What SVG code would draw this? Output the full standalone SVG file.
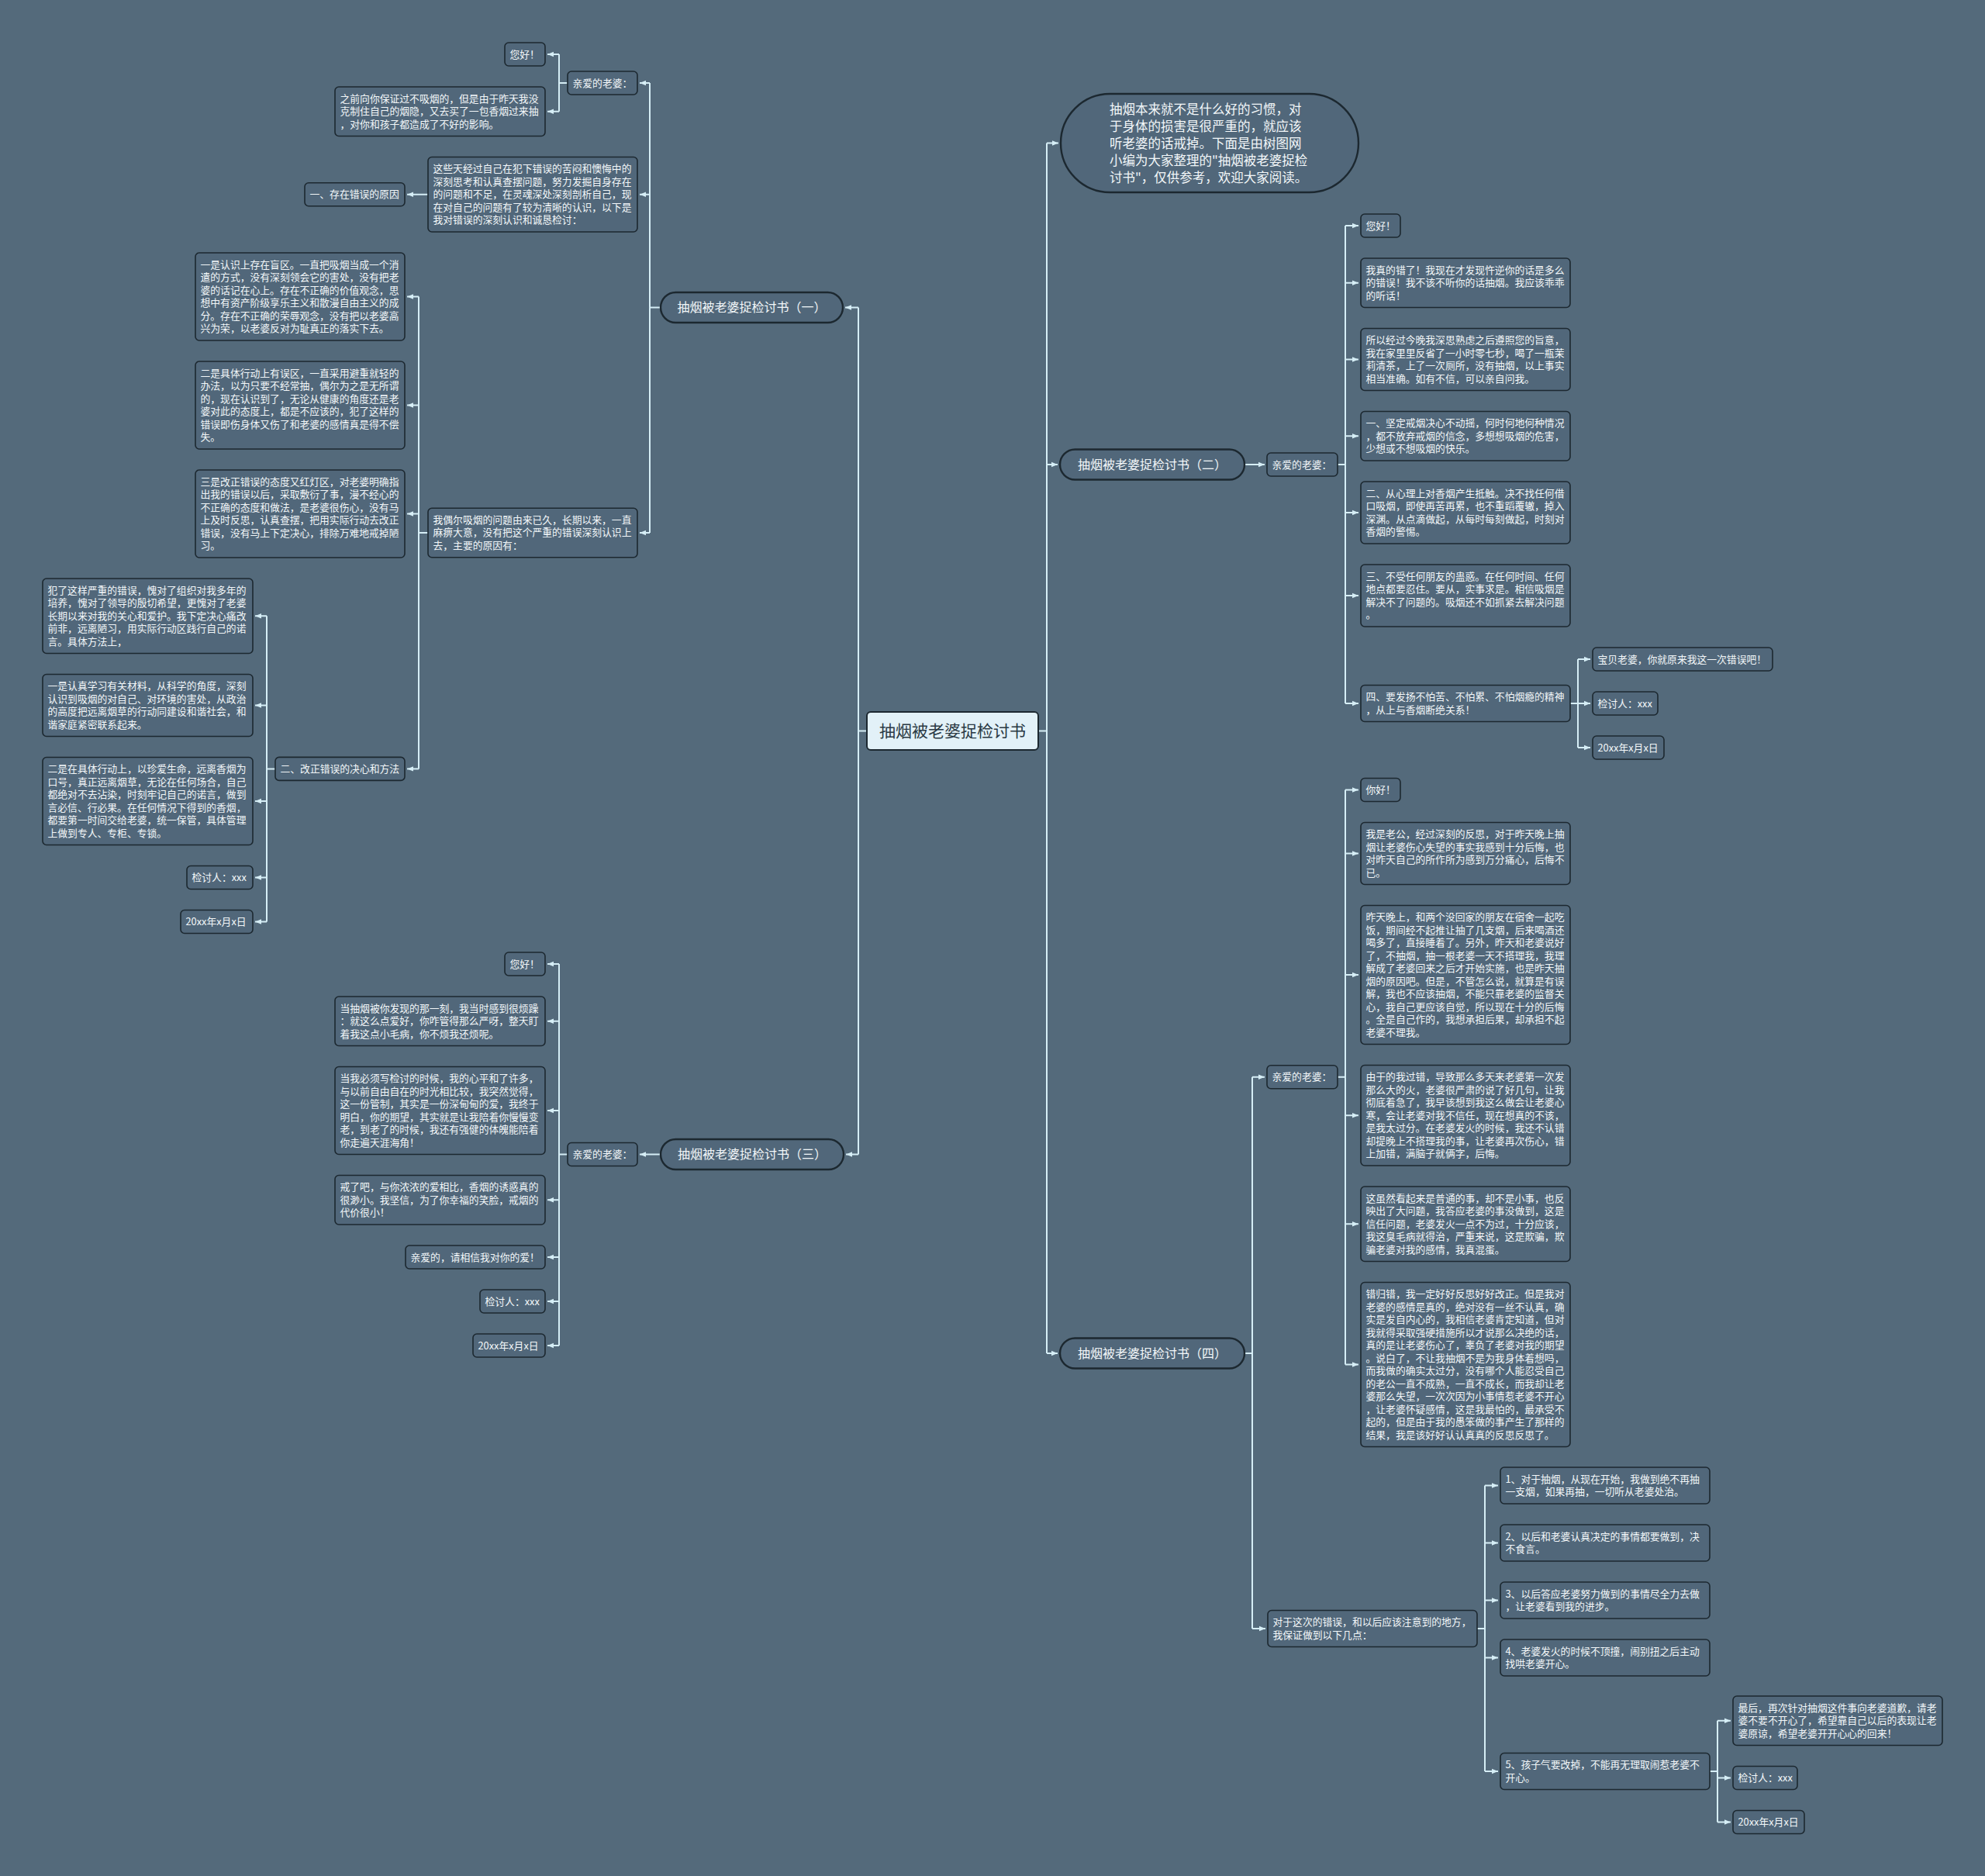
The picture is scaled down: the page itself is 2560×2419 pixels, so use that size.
<svg xmlns="http://www.w3.org/2000/svg" width="2560" height="2419" viewBox="0 0 2560 2419">
<style>
.bg{fill:#546a7b}
.n rect{fill:#51677a;stroke:#1c2830;stroke-width:1.6}
.n text{font-family:"Noto Sans CJK SC","Noto Sans",sans-serif;font-size:12.8px;fill:#f3f7f9}
.p rect{fill:#51677a;stroke:#1c2830;stroke-width:2.4}
.p text{font-family:"Noto Sans CJK SC","Noto Sans",sans-serif;font-size:16px;fill:#f3f7f9;text-anchor:middle}
.r rect{fill:#e2f1f8;stroke:#1c2830;stroke-width:2}
.r text{font-family:"Noto Sans CJK SC","Noto Sans",sans-serif;font-size:21px;fill:#2a3944;text-anchor:middle}
.i text{font-family:"Noto Sans CJK SC","Noto Sans",sans-serif;font-size:16.5px;fill:#f3f7f9}
.c path{stroke:#d6eef6;stroke-width:2;fill:none}
.c path.a{marker-end:url(#ah)}
</style>
<defs>
<marker id="ah" viewBox="0 0 10 10" refX="10" refY="5" markerWidth="8" markerHeight="8" markerUnits="userSpaceOnUse" orient="auto"><path d="M0,1 L10,5 L0,9 z" fill="#d6eef6"/></marker>
</defs>
<rect class="bg" x="0" y="0" width="2560" height="2419"/>

<g id="connectors" class="c">
<path d="M1118,942.5H1107M1107,396.5V1488.5"/>
<path class="a" d="M1107,396.5H1090"/>
<path class="a" d="M1107,1488.5H1091"/>
<path d="M852,396.5H838M838,107V687"/>
<path class="a" d="M838,107H825"/>
<path class="a" d="M838,250.75H825"/>
<path class="a" d="M838,687H825"/>
<path d="M732,107H721M721,70V143.75"/>
<path class="a" d="M721,70H706"/>
<path class="a" d="M721,143.75H706"/>
<path class="a" d="M552,250.75H525"/>
<path d="M552,687H540M540,382.5V991.4"/>
<path class="a" d="M540,382.5H525"/>
<path class="a" d="M540,522.5H525"/>
<path class="a" d="M540,662.5H525"/>
<path class="a" d="M540,991.4H525"/>
<path d="M355,991.4H344M344,794.25V1188.5"/>
<path class="a" d="M344,794.25H329"/>
<path class="a" d="M344,909.5H329"/>
<path class="a" d="M344,1033H329"/>
<path class="a" d="M344,1131.5H329"/>
<path class="a" d="M344,1188.5H329"/>
<path class="a" d="M852,1488.5H825"/>
<path d="M732,1488.5H721M721,1243V1735"/>
<path class="a" d="M721,1243H706"/>
<path class="a" d="M721,1316.75H706"/>
<path class="a" d="M721,1432H706"/>
<path class="a" d="M721,1547.25H706"/>
<path class="a" d="M721,1621H706"/>
<path class="a" d="M721,1678H706"/>
<path class="a" d="M721,1735H706"/>
<path d="M1339,942.5H1350M1350,184.5V1745"/>
<path class="a" d="M1350,184.5H1365"/>
<path class="a" d="M1350,599H1364"/>
<path class="a" d="M1350,1745H1364"/>
<path class="a" d="M1605,599H1631"/>
<path d="M1725,599H1735M1735,291V907"/>
<path class="a" d="M1735,291H1752"/>
<path class="a" d="M1735,364.75H1752"/>
<path class="a" d="M1735,463.5H1752"/>
<path class="a" d="M1735,562.25H1752"/>
<path class="a" d="M1735,661H1752"/>
<path class="a" d="M1735,768H1752"/>
<path class="a" d="M1735,907H1752"/>
<path d="M2025,907H2035M2035,850V964"/>
<path class="a" d="M2035,850H2051"/>
<path class="a" d="M2035,907H2051"/>
<path class="a" d="M2035,964H2051"/>
<path d="M1605,1745H1615M1615,1388.75V2100"/>
<path class="a" d="M1615,1388.75H1631"/>
<path class="a" d="M1615,2100H1632"/>
<path d="M1725,1388.75H1735M1735,1018.5V1759.5"/>
<path class="a" d="M1735,1018.5H1752"/>
<path class="a" d="M1735,1100.5H1752"/>
<path class="a" d="M1735,1257H1752"/>
<path class="a" d="M1735,1438.25H1752"/>
<path class="a" d="M1735,1578.25H1752"/>
<path class="a" d="M1735,1759.5H1752"/>
<path d="M1905,2100H1915M1915,1915.5V2284"/>
<path class="a" d="M1915,1915.5H1932"/>
<path class="a" d="M1915,1989.5H1932"/>
<path class="a" d="M1915,2063.5H1932"/>
<path class="a" d="M1915,2137.5H1932"/>
<path class="a" d="M1915,2284H1932"/>
<path d="M2205,2284H2215M2215,2218.75V2349.5"/>
<path class="a" d="M2215,2218.75H2232"/>
<path class="a" d="M2215,2292.5H2232"/>
<path class="a" d="M2215,2349.5H2232"/>
</g>

<g id="root" class="r"><rect x="1118" y="918" width="221" height="49" rx="5"/><text x="1228.5" y="950">抽烟被老婆捉检讨书</text></g>

<g id="intro" class="i"><rect x="1368" y="121" width="384" height="127" rx="63.5" fill="#51677a" stroke="#1c2830" stroke-width="2.4"/><text x="1431" y="146.5"><tspan x="1431">抽烟本来就不是什么好的习惯，对</tspan><tspan x="1431" dy="22">于身体的损害是很严重的，就应该</tspan><tspan x="1431" dy="22">听老婆的话戒掉。下面是由树图网</tspan><tspan x="1431" dy="22">小编为大家整理的"抽烟被老婆捉检</tspan><tspan x="1431" dy="22">讨书"，仅供参考，欢迎大家阅读。</tspan></text></g>

<!-- Branch 1 -->
<g id="b1" class="p"><rect x="852" y="377" width="235" height="39" rx="19.5"/><text x="969.5" y="402">抽烟被老婆捉检讨书（一）</text></g>
<g id="b1-dear" class="n"><rect x="732" y="92" width="90" height="30" rx="5"/><text x="738.5" y="111.6">亲爱的老婆：</text></g>
<g id="b1-hello" class="n"><rect x="651" y="55" width="52" height="30" rx="5"/><text x="657.5" y="74.6">您好！</text></g>
<g id="b1-before" class="n"><rect x="432" y="112" width="271" height="63.5" rx="5"/><text x="438.5" y="131.6"><tspan x="438.5">之前向你保证过不吸烟的，但是由于昨天我没</tspan><tspan x="438.5" dy="16.5">克制住自己的烟隐，又去买了一包香烟过来抽</tspan><tspan x="438.5" dy="16.5">，对你和孩子都造成了不好的影响。</tspan></text></g>
<g id="b1-days" class="n"><rect x="552" y="202.5" width="270" height="96.5" rx="5"/><text x="558.5" y="222.1"><tspan x="558.5">这些天经过自己在犯下错误的苦闷和懊悔中的</tspan><tspan x="558.5" dy="16.5">深刻思考和认真查摆问题，努力发掘自身存在</tspan><tspan x="558.5" dy="16.5">的问题和不足，在灵魂深处深刻剖析自己，现</tspan><tspan x="558.5" dy="16.5">在对自己的问题有了较为清晰的认识，以下是</tspan><tspan x="558.5" dy="16.5">我对错误的深刻认识和诚恳检讨：</tspan></text></g>
<g id="b1-reason" class="n"><rect x="393" y="235.75" width="129" height="30" rx="5"/><text x="399.5" y="255.35">一、存在错误的原因</text></g>
<g id="b1-occasional" class="n"><rect x="552" y="655.25" width="270" height="63.5" rx="5"/><text x="558.5" y="674.85"><tspan x="558.5">我偶尔吸烟的问题由来已久，长期以来，一直</tspan><tspan x="558.5" dy="16.5">麻痹大意，没有把这个严重的错误深刻认识上</tspan><tspan x="558.5" dy="16.5">去，主要的原因有：</tspan></text></g>
<g id="b1-one" class="n"><rect x="252" y="326" width="270" height="113" rx="5"/><text x="258.5" y="345.6"><tspan x="258.5">一是认识上存在盲区。一直把吸烟当成一个消</tspan><tspan x="258.5" dy="16.5">遣的方式，没有深刻领会它的害处，没有把老</tspan><tspan x="258.5" dy="16.5">婆的话记在心上。存在不正确的价值观念，思</tspan><tspan x="258.5" dy="16.5">想中有资产阶级享乐主义和散漫自由主义的成</tspan><tspan x="258.5" dy="16.5">分。存在不正确的荣辱观念，没有把以老婆高</tspan><tspan x="258.5" dy="16.5">兴为荣，以老婆反对为耻真正的落实下去。</tspan></text></g>
<g id="b1-two" class="n"><rect x="252" y="466" width="270" height="113" rx="5"/><text x="258.5" y="485.6"><tspan x="258.5">二是具体行动上有误区，一直采用避重就轻的</tspan><tspan x="258.5" dy="16.5">办法，以为只要不经常抽，偶尔为之是无所谓</tspan><tspan x="258.5" dy="16.5">的，现在认识到了，无论从健康的角度还是老</tspan><tspan x="258.5" dy="16.5">婆对此的态度上，都是不应该的，犯了这样的</tspan><tspan x="258.5" dy="16.5">错误即伤身体又伤了和老婆的感情真是得不偿</tspan><tspan x="258.5" dy="16.5">失。</tspan></text></g>
<g id="b1-three" class="n"><rect x="252" y="606" width="270" height="113" rx="5"/><text x="258.5" y="625.6"><tspan x="258.5">三是改正错误的态度又红灯区，对老婆明确指</tspan><tspan x="258.5" dy="16.5">出我的错误以后，采取敷衍了事，漫不经心的</tspan><tspan x="258.5" dy="16.5">不正确的态度和做法，是老婆很伤心，没有马</tspan><tspan x="258.5" dy="16.5">上及时反思，认真查摆，把用实际行动去改正</tspan><tspan x="258.5" dy="16.5">错误，没有马上下定决心，排除万难地戒掉陋</tspan><tspan x="258.5" dy="16.5">习。</tspan></text></g>
<g id="b1-correct" class="n"><rect x="355" y="976.4" width="167" height="30" rx="5"/><text x="361.5" y="996">二、改正错误的决心和方法</text></g>
<g id="b1-serious" class="n"><rect x="55" y="746" width="271" height="96.5" rx="5"/><text x="61.5" y="765.6"><tspan x="61.5">犯了这样严重的错误，愧对了组织对我多年的</tspan><tspan x="61.5" dy="16.5">培养，愧对了领导的殷切希望，更愧对了老婆</tspan><tspan x="61.5" dy="16.5">长期以来对我的关心和爱护。我下定决心痛改</tspan><tspan x="61.5" dy="16.5">前非，远离陋习，用实际行动区践行自己的诺</tspan><tspan x="61.5" dy="16.5">言。具体方法上，</tspan></text></g>
<g id="b1-study" class="n"><rect x="55" y="869.5" width="271" height="80" rx="5"/><text x="61.5" y="889.1"><tspan x="61.5">一是认真学习有关材料，从科学的角度，深刻</tspan><tspan x="61.5" dy="16.5">认识到吸烟的对自己、对环境的害处，从政治</tspan><tspan x="61.5" dy="16.5">的高度把远离烟草的行动同建设和谐社会，和</tspan><tspan x="61.5" dy="16.5">谐家庭紧密联系起来。</tspan></text></g>
<g id="b1-action" class="n"><rect x="55" y="976.5" width="271" height="113" rx="5"/><text x="61.5" y="996.1"><tspan x="61.5">二是在具体行动上，以珍爱生命，远离香烟为</tspan><tspan x="61.5" dy="16.5">口号，真正远离烟草，无论在任何场合，自己</tspan><tspan x="61.5" dy="16.5">都绝对不去沾染，时刻牢记自己的诺言，做到</tspan><tspan x="61.5" dy="16.5">言必信、行必果。在任何情况下得到的香烟，</tspan><tspan x="61.5" dy="16.5">都要第一时间交给老婆，统一保管，具体管理</tspan><tspan x="61.5" dy="16.5">上做到专人、专柜、专锁。</tspan></text></g>
<g id="b1-sign" class="n"><rect x="241" y="1116.5" width="85" height="30" rx="5"/><text x="247.5" y="1136.1">检讨人：xxx</text></g>
<g id="b1-date" class="n"><rect x="233" y="1173.5" width="93" height="30" rx="5"/><text x="239.5" y="1193.1">20xx年x月x日</text></g>

<!-- Branch 3 -->
<g id="b3" class="p"><rect x="852" y="1469" width="236" height="39" rx="19.5"/><text x="970" y="1494.1">抽烟被老婆捉检讨书（三）</text></g>
<g id="b3-dear" class="n"><rect x="732" y="1473.5" width="90" height="30" rx="5"/><text x="738.5" y="1493.1">亲爱的老婆：</text></g>
<g id="b3-hello" class="n"><rect x="651" y="1228" width="52" height="30" rx="5"/><text x="657.5" y="1247.6">您好！</text></g>
<g id="b3-found" class="n"><rect x="432" y="1285" width="271" height="63.5" rx="5"/><text x="438.5" y="1304.6"><tspan x="438.5">当抽烟被你发现的那一刻，我当时感到很烦躁</tspan><tspan x="438.5" dy="16.5">：就这么点爱好，你咋管得那么严呀，整天盯</tspan><tspan x="438.5" dy="16.5">着我这点小毛病，你不烦我还烦呢。</tspan></text></g>
<g id="b3-write" class="n"><rect x="432" y="1375.5" width="271" height="113" rx="5"/><text x="438.5" y="1395.1"><tspan x="438.5">当我必须写检讨的时候，我的心平和了许多，</tspan><tspan x="438.5" dy="16.5">与以前自由自在的时光相比较，我突然觉得，</tspan><tspan x="438.5" dy="16.5">这一份管制，其实是一份深甸甸的爱，我终于</tspan><tspan x="438.5" dy="16.5">明白，你的期望，其实就是让我陪着你慢慢变</tspan><tspan x="438.5" dy="16.5">老，到老了的时候，我还有强健的体魄能陪着</tspan><tspan x="438.5" dy="16.5">你走遍天涯海角！</tspan></text></g>
<g id="b3-quit" class="n"><rect x="432" y="1515.5" width="271" height="63.5" rx="5"/><text x="438.5" y="1535.1"><tspan x="438.5">戒了吧，与你浓浓的爱相比，香烟的诱惑真的</tspan><tspan x="438.5" dy="16.5">很渺小。我坚信，为了你幸福的笑脸，戒烟的</tspan><tspan x="438.5" dy="16.5">代价很小！</tspan></text></g>
<g id="b3-love" class="n"><rect x="523" y="1606" width="180" height="30" rx="5"/><text x="529.5" y="1625.6">亲爱的，请相信我对你的爱！</text></g>
<g id="b3-sign" class="n"><rect x="619" y="1663" width="84" height="30" rx="5"/><text x="625.5" y="1682.6">检讨人：xxx</text></g>
<g id="b3-date" class="n"><rect x="610" y="1720" width="93" height="30" rx="5"/><text x="616.5" y="1739.6">20xx年x月x日</text></g>

<!-- Branch 2 -->
<g id="b2" class="p"><rect x="1367" y="579.5" width="238" height="39" rx="19.5"/><text x="1486" y="604.6">抽烟被老婆捉检讨书（二）</text></g>
<g id="b2-dear" class="n"><rect x="1634" y="584" width="91" height="30" rx="5"/><text x="1640.5" y="603.6">亲爱的老婆：</text></g>
<g id="b2-hello" class="n"><rect x="1755" y="276" width="51" height="30" rx="5"/><text x="1761.5" y="295.6">您好！</text></g>
<g id="b2-wrong" class="n"><rect x="1755" y="333" width="270" height="63.5" rx="5"/><text x="1761.5" y="352.6"><tspan x="1761.5">我真的错了！我现在才发现忤逆你的话是多么</tspan><tspan x="1761.5" dy="16.5">的错误！我不该不听你的话抽烟。我应该乖乖</tspan><tspan x="1761.5" dy="16.5">的听话！</tspan></text></g>
<g id="b2-tonight" class="n"><rect x="1755" y="423.5" width="270" height="80" rx="5"/><text x="1761.5" y="443.1"><tspan x="1761.5">所以经过今晚我深思熟虑之后遵照您的旨意，</tspan><tspan x="1761.5" dy="16.5">我在家里里反省了一小时零七秒，喝了一瓶茉</tspan><tspan x="1761.5" dy="16.5">莉清茶，上了一次厕所，没有抽烟，以上事实</tspan><tspan x="1761.5" dy="16.5">相当准确。如有不信，可以亲自问我。</tspan></text></g>
<g id="b2-p1" class="n"><rect x="1755" y="530.5" width="270" height="63.5" rx="5"/><text x="1761.5" y="550.1"><tspan x="1761.5">一、坚定戒烟决心不动摇，何时何地何种情况</tspan><tspan x="1761.5" dy="16.5">，都不放弃戒烟的信念，多想想吸烟的危害，</tspan><tspan x="1761.5" dy="16.5">少想或不想吸烟的快乐。</tspan></text></g>
<g id="b2-p2" class="n"><rect x="1755" y="621" width="270" height="80" rx="5"/><text x="1761.5" y="640.6"><tspan x="1761.5">二、从心理上对香烟产生抵触。决不找任何借</tspan><tspan x="1761.5" dy="16.5">口吸烟，即使再苦再累，也不重蹈覆辙，掉入</tspan><tspan x="1761.5" dy="16.5">深渊。从点滴做起，从每时每刻做起，时刻对</tspan><tspan x="1761.5" dy="16.5">香烟的警惕。</tspan></text></g>
<g id="b2-p3" class="n"><rect x="1755" y="728" width="270" height="80" rx="5"/><text x="1761.5" y="747.6"><tspan x="1761.5">三、不受任何朋友的蛊惑。在任何时间、任何</tspan><tspan x="1761.5" dy="16.5">地点都要忍住。要从，实事求是。相信吸烟是</tspan><tspan x="1761.5" dy="16.5">解决不了问题的。吸烟还不如抓紧去解决问题</tspan><tspan x="1761.5" dy="16.5">。</tspan></text></g>
<g id="b2-p4" class="n"><rect x="1755" y="883.5" width="270" height="47" rx="5"/><text x="1761.5" y="903.1"><tspan x="1761.5">四、要发扬不怕苦、不怕累、不怕烟瘾的精神</tspan><tspan x="1761.5" dy="16.5">，从上与香烟断绝关系！</tspan></text></g>
<g id="b2-baby" class="n"><rect x="2054" y="835" width="232" height="30" rx="5"/><text x="2060.5" y="854.6">宝贝老婆，你就原来我这一次错误吧！</text></g>
<g id="b2-sign" class="n"><rect x="2054" y="892" width="84" height="30" rx="5"/><text x="2060.5" y="911.6">检讨人：xxx</text></g>
<g id="b2-date" class="n"><rect x="2054" y="949" width="92" height="30" rx="5"/><text x="2060.5" y="968.6">20xx年x月x日</text></g>

<!-- Branch 4 -->
<g id="b4" class="p"><rect x="1367" y="1725.5" width="238" height="39" rx="19.5"/><text x="1486" y="1750.6">抽烟被老婆捉检讨书（四）</text></g>
<g id="b4-dear" class="n"><rect x="1634" y="1373.75" width="91" height="30" rx="5"/><text x="1640.5" y="1393.35">亲爱的老婆：</text></g>
<g id="b4-hello" class="n"><rect x="1755" y="1003.5" width="51" height="30" rx="5"/><text x="1761.5" y="1023.1">你好！</text></g>
<g id="b4-husband" class="n"><rect x="1755" y="1060.5" width="270" height="80" rx="5"/><text x="1761.5" y="1080.1"><tspan x="1761.5">我是老公，经过深刻的反思，对于昨天晚上抽</tspan><tspan x="1761.5" dy="16.5">烟让老婆伤心失望的事实我感到十分后悔，也</tspan><tspan x="1761.5" dy="16.5">对昨天自己的所作所为感到万分痛心，后悔不</tspan><tspan x="1761.5" dy="16.5">已。</tspan></text></g>
<g id="b4-yesterday" class="n"><rect x="1755" y="1167.5" width="270" height="179" rx="5"/><text x="1761.5" y="1187.1"><tspan x="1761.5">昨天晚上，和两个没回家的朋友在宿舍一起吃</tspan><tspan x="1761.5" dy="16.5">饭，期间经不起推让抽了几支烟，后来喝酒还</tspan><tspan x="1761.5" dy="16.5">喝多了，直接睡着了。另外，昨天和老婆说好</tspan><tspan x="1761.5" dy="16.5">了，不抽烟，抽一根老婆一天不搭理我，我理</tspan><tspan x="1761.5" dy="16.5">解成了老婆回来之后才开始实施，也是昨天抽</tspan><tspan x="1761.5" dy="16.5">烟的原因吧。但是，不管怎么说，就算是有误</tspan><tspan x="1761.5" dy="16.5">解，我也不应该抽烟，不能只靠老婆的监督关</tspan><tspan x="1761.5" dy="16.5">心，我自己更应该自觉，所以现在十分的后悔</tspan><tspan x="1761.5" dy="16.5">。全是自己作的，我想承担后果，却承担不起</tspan><tspan x="1761.5" dy="16.5">老婆不理我。</tspan></text></g>
<g id="b4-fault" class="n"><rect x="1755" y="1373.5" width="270" height="129.5" rx="5"/><text x="1761.5" y="1393.1"><tspan x="1761.5">由于的我过错，导致那么多天来老婆第一次发</tspan><tspan x="1761.5" dy="16.5">那么大的火，老婆很严肃的说了好几句，让我</tspan><tspan x="1761.5" dy="16.5">彻底着急了，我早该想到我这么做会让老婆心</tspan><tspan x="1761.5" dy="16.5">寒，会让老婆对我不信任，现在想真的不该，</tspan><tspan x="1761.5" dy="16.5">是我太过分。在老婆发火的时候，我还不认错</tspan><tspan x="1761.5" dy="16.5">却提晚上不搭理我的事，让老婆再次伤心，错</tspan><tspan x="1761.5" dy="16.5">上加错，满脑子就俩字，后悔。</tspan></text></g>
<g id="b4-ordinary" class="n"><rect x="1755" y="1530" width="270" height="96.5" rx="5"/><text x="1761.5" y="1549.6"><tspan x="1761.5">这虽然看起来是普通的事，却不是小事，也反</tspan><tspan x="1761.5" dy="16.5">映出了大问题，我答应老婆的事没做到，这是</tspan><tspan x="1761.5" dy="16.5">信任问题，老婆发火一点不为过，十分应该，</tspan><tspan x="1761.5" dy="16.5">我这臭毛病就得治，严重来说，这是欺骗，欺</tspan><tspan x="1761.5" dy="16.5">骗老婆对我的感情，我真混蛋。</tspan></text></g>
<g id="b4-reflect" class="n"><rect x="1755" y="1653.5" width="270" height="212" rx="5"/><text x="1761.5" y="1673.1"><tspan x="1761.5">错归错，我一定好好反思好好改正。但是我对</tspan><tspan x="1761.5" dy="16.5">老婆的感情是真的，绝对没有一丝不认真，确</tspan><tspan x="1761.5" dy="16.5">实是发自内心的，我相信老婆肯定知道，但对</tspan><tspan x="1761.5" dy="16.5">我就得采取强硬措施所以才说那么决绝的话，</tspan><tspan x="1761.5" dy="16.5">真的是让老婆伤心了，辜负了老婆对我的期望</tspan><tspan x="1761.5" dy="16.5">。说白了，不让我抽烟不是为我身体着想吗，</tspan><tspan x="1761.5" dy="16.5">而我做的确实太过分，没有哪个人能忍受自己</tspan><tspan x="1761.5" dy="16.5">的老公一直不成熟，一直不成长，而我却让老</tspan><tspan x="1761.5" dy="16.5">婆那么失望，一次次因为小事情惹老婆不开心</tspan><tspan x="1761.5" dy="16.5">，让老婆怀疑感情，这是我最怕的，最承受不</tspan><tspan x="1761.5" dy="16.5">起的，但是由于我的愚笨做的事产生了那样的</tspan><tspan x="1761.5" dy="16.5">结果，我是该好好认认真真的反思反思了。</tspan></text></g>
<g id="b4-promise" class="n"><rect x="1635" y="2076.5" width="270" height="47" rx="5"/><text x="1641.5" y="2096.1"><tspan x="1641.5">对于这次的错误，和以后应该注意到的地方，</tspan><tspan x="1641.5" dy="16.5">我保证做到以下几点：</tspan></text></g>
<g id="b4-i1" class="n"><rect x="1935" y="1892" width="270" height="47" rx="5"/><text x="1941.5" y="1911.6"><tspan x="1941.5">1、对于抽烟，从现在开始，我做到绝不再抽</tspan><tspan x="1941.5" dy="16.5">一支烟，如果再抽，一切听从老婆处治。</tspan></text></g>
<g id="b4-i2" class="n"><rect x="1935" y="1966" width="270" height="47" rx="5"/><text x="1941.5" y="1985.6"><tspan x="1941.5">2、以后和老婆认真决定的事情都要做到，决</tspan><tspan x="1941.5" dy="16.5">不食言。</tspan></text></g>
<g id="b4-i3" class="n"><rect x="1935" y="2040" width="270" height="47" rx="5"/><text x="1941.5" y="2059.6"><tspan x="1941.5">3、以后答应老婆努力做到的事情尽全力去做</tspan><tspan x="1941.5" dy="16.5">，让老婆看到我的进步。</tspan></text></g>
<g id="b4-i4" class="n"><rect x="1935" y="2114" width="270" height="47" rx="5"/><text x="1941.5" y="2133.6"><tspan x="1941.5">4、老婆发火的时候不顶撞，闹别扭之后主动</tspan><tspan x="1941.5" dy="16.5">找哄老婆开心。</tspan></text></g>
<g id="b4-i5" class="n"><rect x="1935" y="2260.5" width="270" height="47" rx="5"/><text x="1941.5" y="2280.1"><tspan x="1941.5">5、孩子气要改掉，不能再无理取闹惹老婆不</tspan><tspan x="1941.5" dy="16.5">开心。</tspan></text></g>
<g id="b4-last" class="n"><rect x="2235" y="2187" width="270" height="63.5" rx="5"/><text x="2241.5" y="2206.6"><tspan x="2241.5">最后，再次针对抽烟这件事向老婆道歉，请老</tspan><tspan x="2241.5" dy="16.5">婆不要不开心了，希望靠自己以后的表现让老</tspan><tspan x="2241.5" dy="16.5">婆原谅，希望老婆开开心心的回来！</tspan></text></g>
<g id="b4-sign" class="n"><rect x="2235" y="2277.5" width="83" height="30" rx="5"/><text x="2241.5" y="2297.1">检讨人：xxx</text></g>
<g id="b4-date" class="n"><rect x="2235" y="2334.5" width="92" height="30" rx="5"/><text x="2241.5" y="2354.1">20xx年x月x日</text></g>
</svg>
